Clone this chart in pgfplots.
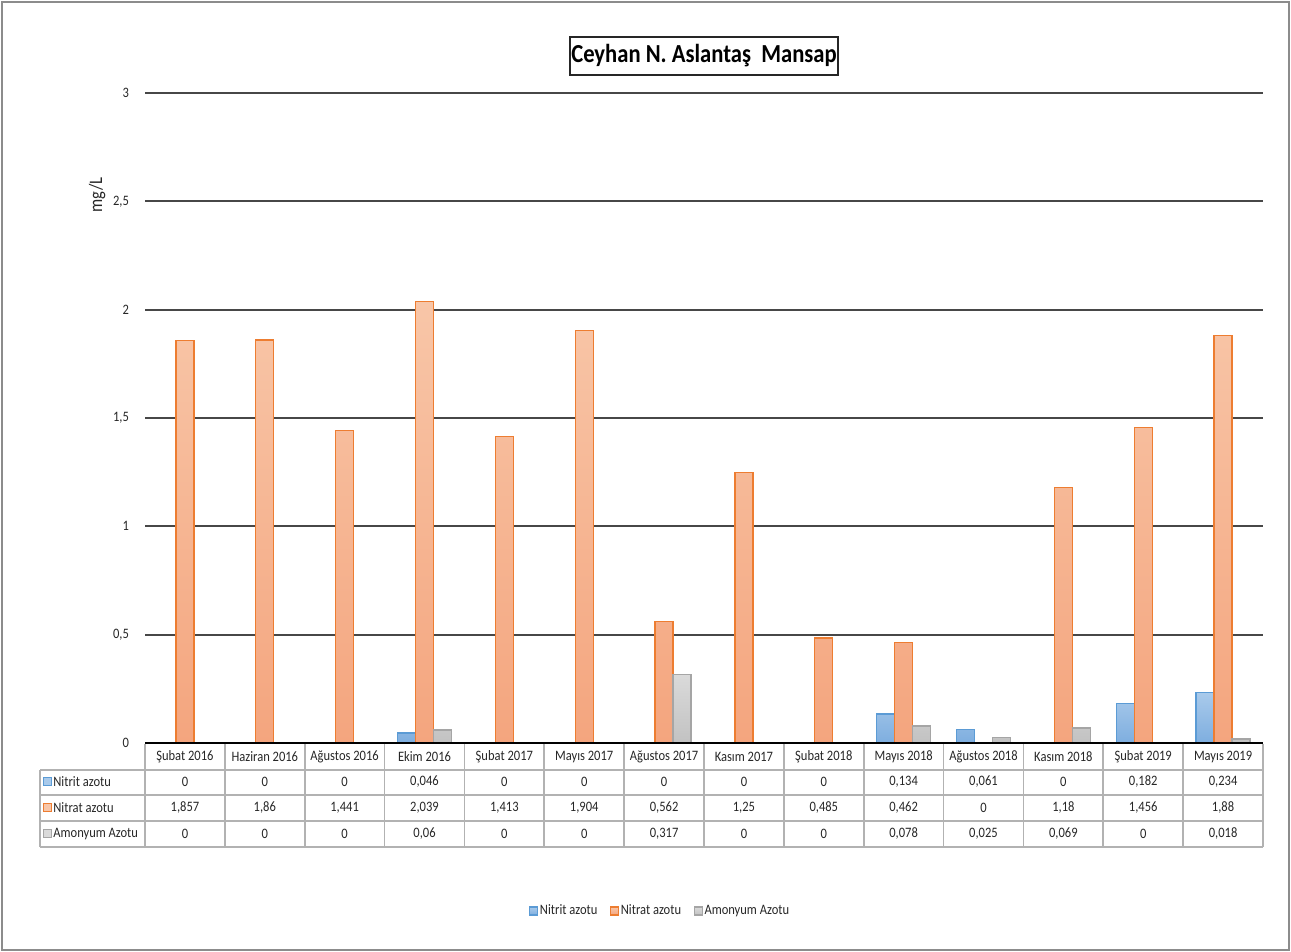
\documentclass[border=0pt]{standalone}
\usepackage{fontspec}
\setmainfont{Carlito}[FakeStretch=0.87]
\usepackage{pgfplots}
\usepackage{pgfplotstable}
\pgfplotsset{compat=1.18}

\definecolor{bluebd}{HTML}{5B9BD5}
\definecolor{bluetop}{HTML}{A9CAEB}
\definecolor{bluebot}{HTML}{7EAEDF}
\definecolor{orabd}{HTML}{ED7D31}
\definecolor{oratop}{HTML}{F8C6A8}
\definecolor{orabot}{HTML}{F4A57E}
\definecolor{graybd}{HTML}{A5A5A5}
\definecolor{graytop}{HTML}{DADADA}
\definecolor{graybot}{HTML}{C2C2C2}
\definecolor{txt}{HTML}{262626}

\newcommand{\tabfont}{\fontsize{7.2}{8}\selectfont}

% mg/L, one row per month
\pgfplotstableread{
idx nitrit nitrat amonyum
0  0     1.857 0
1  0     1.86  0
2  0     1.441 0
3  0.046 2.039 0.06
4  0     1.413 0
5  0     1.904 0
6  0     0.562 0.317
7  0     1.25  0
8  0     0.485 0
9  0.134 0.462 0.078
10 0.061 0     0.025
11 0     1.18  0.069
12 0.182 1.456 0
13 0.234 1.88  0.018
}\data

\begin{document}
\begin{tikzpicture}
\useasboundingbox (0,0) rectangle (645.5pt,476pt);
\begin{axis}[
  at={(72.5pt,104.5pt)},anchor=south west,
  scale only axis,width=559pt,height=325pt,
  xmin=-0.5,xmax=13.5,ymin=0,ymax=3,
  ybar=0pt,bar width=9pt,
  xtick={0,...,13},
  xticklabels={Şubat 2016,Haziran 2016,Ağustos 2016,Ekim 2016,Şubat 2017,Mayıs 2017,Ağustos 2017,Kasım 2017,Şubat 2018,Mayıs 2018,Ağustos 2018,Kasım 2018,Şubat 2019,Mayıs 2019},
  ytick={0,0.5,...,3},
  ymajorgrids,grid style={black!72,line width=1pt},
  axis line style={draw=none},
  major tick length=0pt,
  tick label style={font=\tabfont,text=txt},
  xticklabel style={anchor=center,yshift=-7pt},
  yticklabel style={xshift=-4.5pt,/pgf/number format/.cd,use comma,fixed,assume math mode=true},
  ylabel={mg/L},
  ylabel style={at={(axis description cs:-0.0429,0.843)},anchor=center,font=\fontsize{9.5}{10}\selectfont,text=txt},
  y filter/.expression={y==0 ? nan : y},
  legend style={at={(axis description cs:0.4606,-0.2585)},anchor=center,draw=none,fill=none,
    font=\tabfont,text=txt,legend columns=3,
    nodes={inner xsep=0.8pt},
    /tikz/every even column/.append style={column sep=5.5pt}},
  legend image code/.code={\draw[#1] (0pt,-2pt) rectangle (4pt,2pt);},
  clip=false
]
\addplot[draw=bluebd,top color=bluetop,bottom color=bluebot,line width=0.6pt] table[x=idx,y=nitrit] {\data};
\addlegendentry{Nitrit azotu}
\addplot[draw=orabd,top color=oratop,bottom color=orabot,line width=0.6pt] table[x=idx,y=nitrat] {\data};
\addlegendentry{Nitrat azotu}
\addplot[draw=graybd,top color=graytop,bottom color=graybot,line width=0.6pt] table[x=idx,y=amonyum] {\data};
\addlegendentry{Amonyum Azotu}
\draw[black,line width=1pt] (rel axis cs:0,0) -- (rel axis cs:1,0);
\end{axis}

\begin{scope}[x=0.5pt,y=-0.5pt,yshift=476pt]
  % outer frame
  \draw[black!45,line width=0.6pt] (2,2) rectangle (1289,950);
  % title box
  \node[draw=black!85,line width=0.9pt,minimum width=134pt,minimum height=19pt,inner sep=0pt,
    font=\fontsize{13}{14}\selectfont\bfseries,text=black] at (704,56) {Ceyhan N. Aslantaş\ \ Mansap};
  % data table grid
  \foreach \k in {0,...,14} {
    \draw[black!30,line width=0.8pt] ({145+\k*1118/14},744) -- ({145+\k*1118/14},847);
  }
  \draw[black!30,line width=0.8pt] (40,770) -- (40,847);
  \foreach \yy in {770,795,821,847} {
    \draw[black!30,line width=0.8pt] (40,\yy) -- (1263,\yy);
  }
  % row keys and names
  \foreach \yy/\bd/\tp/\nm in {782/bluebd/bluetop/Nitrit azotu,808/orabd/oratop/Nitrat azotu,834/graybd/graytop/Amonyum Azotu} {
    \draw[draw=\bd,fill=\tp,line width=0.5pt] (43,{\yy-4}) rectangle (51,{\yy+4});
    \node[anchor=west,font=\tabfont,text=txt,inner sep=0pt] at (53,\yy) {\nm};
  }
  % values
  \foreach \i in {0,...,13} {
    \pgfmathsetmacro\cx{145+(\i+0.5)*1118/14}
    \foreach \col/\yy in {nitrit/782,nitrat/808,amonyum/834} {
      \pgfplotstablegetelem{\i}{\col}\of\data
      \node[font=\tabfont,text=txt] at (\cx,\yy)
        {\pgfmathprintnumber[use comma,fixed,precision=3,assume math mode=true]{\pgfplotsretval}};
    }
  }
\end{scope}
\end{tikzpicture}
\end{document}
